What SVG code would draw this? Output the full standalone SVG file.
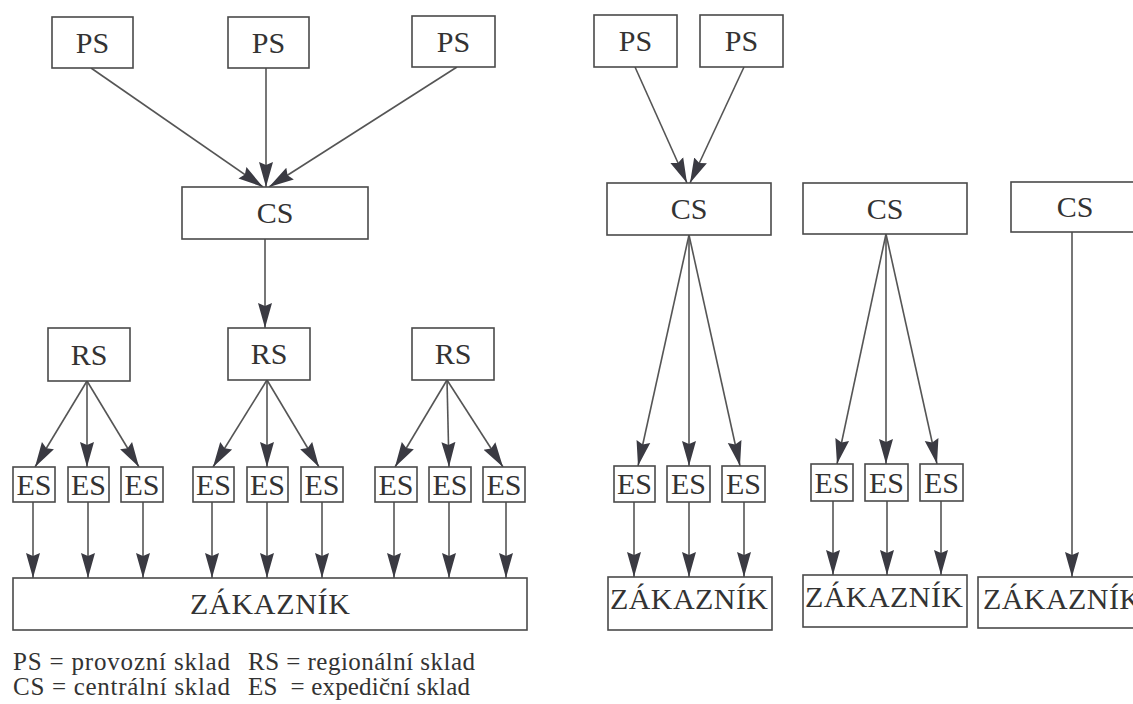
<svg xmlns="http://www.w3.org/2000/svg" width="1133" height="704" viewBox="0 0 1133 704">
<style>
.box{fill:#fff;stroke:#4a4a4a;stroke-width:1.6}
.t{font-family:"Liberation Serif","DejaVu Serif",serif;font-size:30px;fill:#333;text-anchor:middle}
.ts{font-family:"Liberation Serif","DejaVu Serif",serif;font-size:30px;fill:#333}
.leg{font-family:"Liberation Serif","DejaVu Serif",serif;font-size:25px;fill:#333}
.c line{stroke:#555;stroke-width:1.6;marker-end:url(#ah)}
</style>
<defs>
<marker id="ah" markerUnits="userSpaceOnUse" markerWidth="26" markerHeight="16" refX="25" refY="8" orient="auto">
<path d="M0,1 L25,8 L0,15 L3,8 Z" fill="#3a3a42"/>
</marker>
</defs>
<rect width="1133" height="704" fill="#fff"/>
<g class="c" id="connectors">
<line x1="91" y1="68" x2="263" y2="187"/>
<line x1="266" y1="68" x2="266" y2="187"/>
<line x1="457" y1="67" x2="269" y2="187"/>
<line x1="265" y1="239" x2="265" y2="328"/>
<line x1="87" y1="381" x2="35" y2="467"/>
<line x1="87" y1="381" x2="87" y2="467"/>
<line x1="87" y1="381" x2="139" y2="467"/>
<line x1="267" y1="380" x2="213" y2="467"/>
<line x1="267" y1="380" x2="267" y2="467"/>
<line x1="267" y1="380" x2="319" y2="467"/>
<line x1="447" y1="380" x2="395" y2="467"/>
<line x1="447" y1="380" x2="449" y2="467"/>
<line x1="447" y1="380" x2="503" y2="467"/>
<line x1="33" y1="502" x2="33" y2="578"/>
<line x1="88" y1="502" x2="88" y2="578"/>
<line x1="143" y1="502" x2="143" y2="578"/>
<line x1="212" y1="502" x2="212" y2="578"/>
<line x1="267" y1="502" x2="267" y2="578"/>
<line x1="322" y1="502" x2="322" y2="578"/>
<line x1="394" y1="502" x2="394" y2="578"/>
<line x1="449" y1="502" x2="449" y2="578"/>
<line x1="506" y1="502" x2="506" y2="578"/>
<line x1="635" y1="67" x2="687" y2="183"/>
<line x1="744" y1="67" x2="690" y2="183"/>
<line x1="689" y1="235" x2="638" y2="466"/>
<line x1="689" y1="235" x2="689" y2="466"/>
<line x1="689" y1="235" x2="740" y2="466"/>
<line x1="634" y1="502" x2="634" y2="577"/>
<line x1="689" y1="502" x2="689" y2="577"/>
<line x1="744" y1="502" x2="744" y2="577"/>
<line x1="886" y1="234" x2="837" y2="464"/>
<line x1="886" y1="234" x2="886" y2="464"/>
<line x1="886" y1="234" x2="937" y2="464"/>
<line x1="833" y1="501" x2="833" y2="575"/>
<line x1="887" y1="501" x2="887" y2="575"/>
<line x1="941" y1="501" x2="941" y2="575"/>
<line x1="1072" y1="232" x2="1072" y2="577"/>
</g>
<g id="ps1"><rect class="box" x="52" y="17" width="81" height="51"/><text class="t" x="92.5" y="52.5">PS</text></g>
<g id="ps2"><rect class="box" x="228" y="17" width="81" height="51"/><text class="t" x="268.5" y="52.5">PS</text></g>
<g id="ps3"><rect class="box" x="412" y="16" width="83" height="51"/><text class="t" x="453.5" y="51.5">PS</text></g>
<g id="cs"><rect class="box" x="182" y="187" width="186" height="52"/><text class="t" x="275" y="223">CS</text></g>
<g id="rs1"><rect class="box" x="48" y="328" width="82" height="53"/><text class="t" x="89" y="364.5">RS</text></g>
<g id="rs2"><rect class="box" x="228" y="328" width="82" height="52"/><text class="t" x="269" y="364">RS</text></g>
<g id="rs3"><rect class="box" x="412" y="328" width="82" height="52"/><text class="t" x="453" y="364">RS</text></g>
<g id="es1"><rect class="box" x="13" y="467" width="42" height="35"/><text class="t" x="34" y="494.5">ES</text></g>
<g id="es2"><rect class="box" x="68" y="467" width="41" height="35"/><text class="t" x="88.5" y="494.5">ES</text></g>
<g id="es3"><rect class="box" x="121" y="467" width="42" height="35"/><text class="t" x="142" y="494.5">ES</text></g>
<g id="es4"><rect class="box" x="193" y="467" width="41" height="35"/><text class="t" x="213.5" y="494.5">ES</text></g>
<g id="es5"><rect class="box" x="247" y="467" width="41" height="35"/><text class="t" x="267.5" y="494.5">ES</text></g>
<g id="es6"><rect class="box" x="301" y="467" width="42" height="35"/><text class="t" x="322" y="494.5">ES</text></g>
<g id="es7"><rect class="box" x="375" y="467" width="42" height="35"/><text class="t" x="396" y="494.5">ES</text></g>
<g id="es8"><rect class="box" x="429" y="467" width="42" height="35"/><text class="t" x="450" y="494.5">ES</text></g>
<g id="es9"><rect class="box" x="483" y="467" width="42" height="35"/><text class="t" x="504" y="494.5">ES</text></g>
<g id="zak1"><rect class="box" x="13" y="578" width="514" height="52"/><text class="t" x="270" y="614" textLength="160">ZÁKAZNÍK</text></g>
<g id="legend">
<text class="leg" x="13" y="670" textLength="217">PS = provozní sklad</text>
<text class="leg" x="248" y="670" textLength="227">RS = regionální sklad</text>
<text class="leg" x="13" y="695" textLength="217">CS = centrální sklad</text>
<text class="leg" x="248" y="695" textLength="222" xml:space="preserve">ES  = expediční sklad</text>
</g>
<g id="ps4"><rect class="box" x="594" y="15" width="83" height="52"/><text class="t" x="635.5" y="51">PS</text></g>
<g id="ps5"><rect class="box" x="700" y="15" width="83" height="52"/><text class="t" x="741.5" y="51">PS</text></g>
<g id="cs2"><rect class="box" x="607" y="183" width="164" height="52"/><text class="t" x="689" y="219">CS</text></g>
<g id="es10"><rect class="box" x="614" y="466" width="41" height="36"/><text class="t" x="634.5" y="494">ES</text></g>
<g id="es11"><rect class="box" x="667" y="466" width="43" height="36"/><text class="t" x="688.5" y="494">ES</text></g>
<g id="es12"><rect class="box" x="722" y="466" width="43" height="36"/><text class="t" x="743.5" y="494">ES</text></g>
<g id="zak2"><rect class="box" x="608" y="577" width="164" height="53"/><text class="ts" x="610" y="609" textLength="158">ZÁKAZNÍK</text></g>
<g id="cs3"><rect class="box" x="803" y="183" width="164" height="51"/><text class="t" x="885" y="218.5">CS</text></g>
<g id="es13"><rect class="box" x="811" y="464" width="42" height="37"/><text class="t" x="832" y="492.5">ES</text></g>
<g id="es14"><rect class="box" x="865" y="464" width="43" height="37"/><text class="t" x="886.5" y="492.5">ES</text></g>
<g id="es15"><rect class="box" x="920" y="464" width="43" height="37"/><text class="t" x="941.5" y="492.5">ES</text></g>
<g id="zak3"><rect class="box" x="803" y="575" width="164" height="52"/><text class="ts" x="805" y="607" textLength="158">ZÁKAZNÍK</text></g>
<g id="cs4"><rect class="box" x="1011" y="182" width="140" height="50"/><text class="t" x="1075" y="217">CS</text></g>
<g id="zak4"><rect class="box" x="978" y="577" width="170" height="51"/><text class="ts" x="983" y="609" textLength="158">ZÁKAZNÍK</text></g>
</svg>
